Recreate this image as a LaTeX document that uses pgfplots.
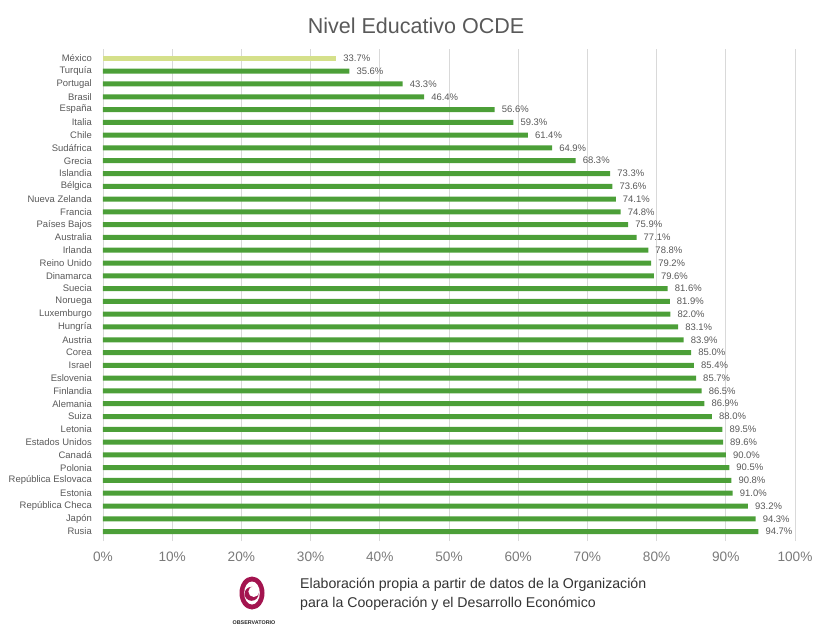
\documentclass[border=0pt]{standalone}
\usepackage{pgfplots}
\pgfplotsset{compat=1.18}
\usepackage{pgfplotstable}
\usepackage{fontspec}
\setmainfont{Liberation Sans}

\definecolor{barverde}{HTML}{4C9F38}
\definecolor{barclaro}{HTML}{D5E08A}
\definecolor{textogris}{HTML}{595959}
\definecolor{tickgris}{HTML}{7A7A7A}
\definecolor{rejilla}{HTML}{D9D9D9}
\definecolor{logomag}{HTML}{A3144F}

% Mexico is highlighted in its own series
\pgfplotstableread{
idx value
0 33.7
}\mexico

\pgfplotstableread{
idx value
1 35.6
2 43.3
3 46.4
4 56.6
5 59.3
6 61.4
7 64.9
8 68.3
9 73.3
10 73.6
11 74.1
12 74.8
13 75.9
14 77.1
15 78.8
16 79.2
17 79.6
18 81.6
19 81.9
20 82.0
21 83.1
22 83.9
23 85.0
24 85.4
25 85.7
26 86.5
27 86.9
28 88.0
29 89.5
30 89.6
31 90.0
32 90.5
33 90.8
34 91.0
35 93.2
36 94.3
37 94.7
}\resto

\begin{document}
\begin{tikzpicture}
\useasboundingbox (-103bp,-90bp) rectangle (714bp,538bp);
\begin{axis}[
  at={(0,0)}, anchor=south west,
  scale only axis,
  width=692bp, height=486bp,
  xbar, bar width=5bp, bar shift=0pt,
  xmin=0, xmax=100,
  ymin=-0.5, ymax=37.5,
  y dir=reverse,
  clip=false,
  separate axis lines,
  axis line style={draw=none},
  xtick={0,10,...,100},
  xticklabels={0\%,10\%,20\%,30\%,40\%,50\%,60\%,70\%,80\%,90\%,100\%},
  xmajorgrids,
  major grid style={draw=rejilla, line width=0.9bp},
  tick align=outside,
  major tick length=3bp,
  x tick style={draw=rejilla, line width=0.9bp},
  ytick={0,...,37},
  y tick style={draw=none},
  yticklabels={México,Turquía,Portugal,Brasil,España,Italia,Chile,Sudáfrica,Grecia,Islandia,Bélgica,Nueva Zelanda,Francia,Países Bajos,Australia,Irlanda,Reino Unido,Dinamarca,Suecia,Noruega,Luxemburgo,Hungría,Austria,Corea,Israel,Eslovenia,Finlandia,Alemania,Suiza,Letonia,Estados Unidos,Canadá,Polonia,República Eslovaca,Estonia,República Checa,Japón,Rusia},
  yticklabel style={anchor=east, inner sep=0pt, xshift=-8bp, font=\fontsize{9.5}{11}\selectfont, text=textogris},
  xticklabel style={anchor=north, inner sep=0pt, yshift=-11bp, font=\fontsize{13.7}{16}\selectfont, text=tickgris},
  /pgf/number format/assume math mode=true,
  nodes near coords={\pgfmathprintnumber[fixed,fixed zerofill,precision=1,assume math mode=true]{\pgfplotspointmeta}\%},
  every node near coord/.append style={anchor=west, inner sep=0pt, xshift=7bp, font=\fontsize{9.5}{11}\selectfont, text=textogris},
]
\addplot[fill=barclaro, draw=none] table[x=value, y=idx] {\mexico};
\addplot[fill=barverde, draw=none] table[x=value, y=idx] {\resto};
\end{axis}

% title
\node[text=textogris, font=\fontsize{21.6}{26}\selectfont] at (313bp,512bp) {Nivel Educativo OCDE};

% logo
\begin{scope}[shift={(149bp,-55bp)}]
  \fill[logomag] (0,0) ellipse [x radius=12.5bp, y radius=16.5bp];
  \fill[white] (0,0) ellipse [x radius=7.8bp, y radius=11.5bp];
  \fill[logomag] (-0.4bp,-0.8bp) circle [radius=7bp];
  \fill[white] (1.8bp,1.4bp) circle [radius=5.4bp];
\end{scope}
\node[text=black!85, font=\fontsize{5.4}{6}\bfseries\selectfont, inner sep=0pt] at (151bp,-85bp) {OBSERVATORIO};

% source note
\node[anchor=west, inner sep=0pt, text=black!80, font=\fontsize{14.2}{17}\selectfont] at (197bp,-47bp) {Elaboración propia a partir de datos de la Organización};
\node[anchor=west, inner sep=0pt, text=black!80, font=\fontsize{14.2}{17}\selectfont] at (197bp,-66bp) {para la Cooperación y el Desarrollo Económico};
\end{tikzpicture}
\end{document}
